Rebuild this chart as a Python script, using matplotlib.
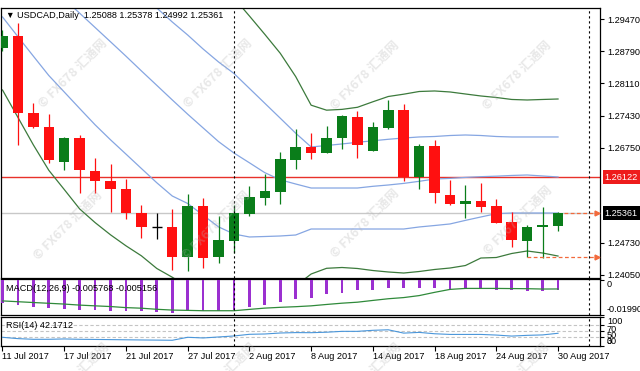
import matplotlib.pyplot as plt
from matplotlib.transforms import blended_transform_factory

plt.rcParams['font.family'] = ['Liberation Sans', 'DejaVu Sans']

W, H = 640, 371

# daily candles, 11 Jul 2017 .. 30 Aug 2017
opens = [1.2886, 1.2912, 1.2748, 1.2719, 1.2645, 1.2695, 1.2625, 1.2605, 1.2587, 1.2537,
         1.2506, 1.2506, 1.2443, 1.2551, 1.2443, 1.2478, 1.2534, 1.2569, 1.2581, 1.2649,
         1.2677, 1.2663, 1.2696, 1.2739, 1.2668, 1.2717, 1.2755, 1.2613, 1.2678, 1.2575,
         1.2555, 1.2562, 1.2552, 1.2518, 1.2477, 1.2506, 1.25088]
highs = [1.2925, 1.2939, 1.2770, 1.2746, 1.2698, 1.2702, 1.2652, 1.2640, 1.2609, 1.2553,
         1.2536, 1.2544, 1.2577, 1.2568, 1.2529, 1.2553, 1.2594, 1.2619, 1.2666, 1.2714,
         1.2705, 1.2721, 1.2744, 1.2753, 1.2730, 1.2776, 1.2767, 1.2683, 1.2691, 1.2606,
         1.2596, 1.2599, 1.2567, 1.2539, 1.2511, 1.2550, 1.25378]
lows = [1.2880, 1.2681, 1.2717, 1.2642, 1.2628, 1.2579, 1.2578, 1.2539, 1.2523, 1.2483,
        1.2481, 1.2416, 1.2414, 1.2419, 1.2430, 1.2451, 1.2530, 1.2553, 1.2556, 1.2629,
        1.2650, 1.2663, 1.2671, 1.2652, 1.2667, 1.2715, 1.2605, 1.2587, 1.2557, 1.2553,
        1.2526, 1.2539, 1.2515, 1.2465, 1.24425, 1.2440, 1.24992]
closes = [1.2912, 1.2748, 1.2719, 1.2649, 1.2695, 1.2628, 1.2604, 1.2587, 1.2537, 1.2507,
          1.2506, 1.2443, 1.2551, 1.2440, 1.2479, 1.2537, 1.2571, 1.2582, 1.2650, 1.2677,
          1.2663, 1.2695, 1.2742, 1.2681, 1.2719, 1.2755, 1.2613, 1.2678, 1.2579, 1.2555,
          1.2562, 1.2550, 1.2516, 1.2479, 1.2506, 1.2511, 1.25361]

# bollinger lines
bb_mid = [1.31121, 1.30812, 1.30515, 1.30208, 1.29900, 1.29599, 1.29296, 1.28993, 1.28688, 1.28376,
          1.28069, 1.27761, 1.27458, 1.27167, 1.26877, 1.26635, 1.26428, 1.26218, 1.26067, 1.25978,
          1.25893, 1.25893, 1.25893, 1.25893, 1.25929, 1.25957, 1.25991, 1.26035, 1.26084, 1.26097,
          1.26118, 1.26133, 1.26144, 1.26159, 1.26169, 1.26148, 1.26127]
bb1_up = [1.32656, 1.32359, 1.32063, 1.31766, 1.31469, 1.31172, 1.30897, 1.30600, 1.30303, 1.30006,
          1.29709, 1.29413, 1.29137, 1.28840, 1.28565, 1.28321, 1.28005, 1.27689, 1.27373, 1.27055,
          1.26763, 1.26794, 1.26827, 1.26862, 1.26894, 1.26926, 1.26953, 1.26975, 1.26985, 1.27006,
          1.27017, 1.27006, 1.26985, 1.26975, 1.26975, 1.26975, 1.26975]
bb1_low = [1.29519, 1.29101, 1.28688, 1.28278, 1.27929, 1.27579, 1.27233, 1.26915, 1.26612, 1.26307,
           1.26004, 1.25724, 1.25565, 1.25317, 1.25069, 1.24918, 1.24855, 1.24865, 1.24876, 1.24897,
           1.25024, 1.25024, 1.25024, 1.25024, 1.25024, 1.25024, 1.25024, 1.25067, 1.25098, 1.25131,
           1.25207, 1.25279, 1.25349, 1.25363, 1.25363, 1.25363, 1.25363]
bb2_up = [1.36027, 1.35603, 1.35179, 1.34755, 1.34331, 1.33907, 1.33483, 1.33059, 1.32635, 1.32211,
          1.31829, 1.31448, 1.31066, 1.30685, 1.30303, 1.29921, 1.29540, 1.29150, 1.28749, 1.28255,
          1.27649, 1.27543, 1.27560, 1.27604, 1.27721, 1.27833, 1.27882, 1.27939, 1.27950, 1.27929,
          1.27886, 1.27844, 1.27812, 1.27770, 1.27759, 1.27770, 1.27780]
bb2_low = [1.27971, 1.27390, 1.26807, 1.26269, 1.25862, 1.25450, 1.25160, 1.24901, 1.24668, 1.24456,
           1.24187, 1.24002, 1.23795, 1.23561, 1.23392, 1.23265, 1.23265, 1.23413, 1.23625, 1.23816,
           1.24070, 1.24191, 1.24208, 1.24187, 1.24144, 1.24113, 1.24091, 1.24123, 1.24166, 1.24197,
           1.24250, 1.24409, 1.24420, 1.24505, 1.24558, 1.24515, 1.24451]

macd_main = [-0.0135, -0.01433, -0.01583, -0.01622, -0.0166, -0.01717, -0.01735, -0.01773, -0.01811, -0.01811,
             -0.01868, -0.01906, -0.01735, -0.01773, -0.01773, -0.01735, -0.01583, -0.01433, -0.01263, -0.0111,
             -0.01014, -0.00825, -0.0073, -0.00598, -0.00579, -0.00484, -0.00484, -0.00446, -0.00484, -0.00541,
             -0.00503, -0.00541, -0.00579, -0.00598, -0.00636, -0.00636, -0.005768]
macd_signal = [-0.01206, -0.01252, -0.01299, -0.01343, -0.01388, -0.01448, -0.01491, -0.01531, -0.01593, -0.01627,
               -0.0169, -0.01735, -0.01753, -0.01773, -0.01773, -0.01773, -0.01696, -0.01622, -0.01576, -0.0154,
               -0.01491, -0.01411, -0.01337, -0.0128, -0.01178, -0.01081, -0.01013, -0.00899, -0.00711, -0.00541,
               -0.00484, -0.00484, -0.00484, -0.00493, -0.005, -0.0052, -0.005156]
rsi_vals = [28.3, 23.7, 21.4, 21.4, 22.6, 21.4, 20.9, 20.3, 19.7, 19.1,
            18.6, 18.0, 28.3, 26.0, 29.4, 32.9, 38.6, 39.7, 43.1, 44.5,
            44.2, 45.8, 48.8, 48.8, 52.4, 54.2, 42.7, 45.2, 40.5, 38.2,
            38.2, 38.2, 36.0, 32.5, 35.0, 36.5, 42.1712]

tick_idx = [0, 4, 8, 12, 16, 20, 24, 28, 32, 36]
tick_labels = ['11 Jul 2017', '17 Jul 2017', '21 Jul 2017', '27 Jul 2017', '2 Aug 2017',
               '8 Aug 2017', '14 Aug 2017', '18 Aug 2017', '24 Aug 2017', '30 Aug 2017']
price_ticks = [1.29470, 1.28790, 1.28110, 1.27430, 1.26750, 1.24730, 1.24050]
red_level = 1.26122
separators = [15, 38]

GREEN = '#0a7d1a'
RED = '#ff1010'
FS = 6.6


def box(l, t, r, b):
    return [l / W, 1 - b / H, (r - l) / W, (b - t) / H]


fig = plt.figure(figsize=(6.4, 3.71), dpi=100)
fig.patch.set_facecolor('white')
ax = fig.add_axes(box(1, 8, 600, 277.5))
ax_m = fig.add_axes(box(1, 279, 600, 314.5))
ax_r = fig.add_axes(box(1, 316.5, 600, 345.5))

x = list(range(len(opens)))

for a in (ax, ax_m, ax_r):
    a.set_xlim(-0.097, 38.72)
    a.set_facecolor('white')
    for s in a.spines.values():
        s.set_linewidth(0.9)
        s.set_color('black')
    for sx in separators:
        a.axvline(sx, color='black', lw=0.8, ls=(0, (2, 2.5)), zorder=6)

# main chart
ax.set_ylim(1.23996, 1.29709)
ax.axhline(closes[-1], color='#c8c8c8', lw=1, zorder=1)
ax.axhline(red_level, color='#e8322a', lw=1, zorder=2)
ax.plot(x, bb2_up, color='#3c7a3c', lw=0.9, zorder=2)
ax.plot(x, bb2_low, color='#3c7a3c', lw=0.9, zorder=2)
ax.plot(x, bb1_up, color='#86a6e2', lw=0.9, zorder=2)
ax.plot(x, bb_mid, color='#86a6e2', lw=0.9, zorder=2)
ax.plot(x, bb1_low, color='#86a6e2', lw=0.9, zorder=2)

for i in x:
    o, h, l, c = opens[i], highs[i], lows[i], closes[i]
    col = GREEN if c > o else (RED if c < o else 'black')
    ax.vlines(i, l, h, color=col, lw=0.9, zorder=3)
    if c == o:
        ax.hlines(o, i - 0.34, i + 0.34, color=col, lw=1, zorder=4)
    else:
        ax.bar(i, abs(c - o), bottom=min(o, c), width=0.68, color=col, lw=0, zorder=4)

dash_col = '#f26a3c'
ax.plot([36.4, 38.5], [closes[-1]] * 2, color=dash_col, lw=0.9, ls=(0, (3, 2)), zorder=5)
ax.plot([34, 38.5], [lows[34]] * 2, color=dash_col, lw=0.9, ls=(0, (3, 2)), zorder=5)
ax.plot([38.5, 38.5], [closes[-1], lows[34]], ls='none', marker='>', ms=3.5, color=dash_col, zorder=5)

ax.yaxis.tick_right()
ax.set_yticks(price_ticks)
ax.set_yticklabels([f'{v:.5f}' for v in price_ticks])
ax.tick_params(axis='y', direction='out', length=3, width=0.8, pad=2, labelsize=FS)
ax.set_xticks([])

tr = blended_transform_factory(ax.transAxes, ax.transData)
ax.text(1.008, red_level, f'{red_level:.5f}', transform=tr, ha='left', va='center', color='white',
        fontsize=FS, bbox=dict(boxstyle='square,pad=0.25', fc='#ee1c1c', ec='none'), clip_on=False)
ax.text(1.008, closes[-1], f'{closes[-1]:.5f}', transform=tr, ha='left', va='center', color='white',
        fontsize=FS, bbox=dict(boxstyle='square,pad=0.25', fc='black', ec='none'), clip_on=False)

ax.text(0.0067, 0.972, '\u25bc', transform=ax.transAxes, fontsize=6.2, va='center', ha='left')
ax.text(0.0267, 0.972, 'USDCAD,Daily  ' + ' '.join(f'{v:.5f}' for v in
        (opens[-1], highs[-1], lows[-1], closes[-1])),
        transform=ax.transAxes, fontsize=FS, va='center', ha='left')

# MACD
ax_m.set_ylim(-0.019909, 0.0006)
ax_m.bar(x, macd_main, width=0.18, color='#9b30d0', lw=0, zorder=3)
ax_m.plot(x, macd_signal, color='#2f8a3a', lw=0.9, zorder=4)
ax_m.yaxis.tick_right()
ax_m.set_yticks([0, -0.019909])
ax_m.set_yticklabels(['0', '-0.019909'])
ax_m.get_yticklabels()[0].set_va('top')
ax_m.get_yticklabels()[1].set_va('bottom')
ax_m.tick_params(axis='y', direction='out', length=3, width=0.8, pad=2, labelsize=FS)
ax_m.set_xticks([])
ax_m.text(0.0083, 0.72, f'MACD(12,26,9) {macd_main[-1]:.6f} {macd_signal[-1]:.6f}',
          transform=ax_m.transAxes, fontsize=FS, va='center', ha='left')

# RSI
ax_r.set_ylim(0, 100)
for lv in (70, 50, 30):
    ax_r.axhline(lv, color='#c4c4c4', lw=0.8, ls=(0, (3, 2)), zorder=1)
ax_r.plot(x, rsi_vals, color='#4a96da', lw=0.8, zorder=3)
ax_r.yaxis.tick_right()
ax_r.set_yticks([100, 70, 50, 30, 0])
ax_r.set_yticklabels(['100', '70', '50', '30', '0'])
for lab in ax_r.get_yticklabels()[:4]:
    lab.set_va('top')
ax_r.get_yticklabels()[4].set_va('bottom')
ax_r.tick_params(axis='y', direction='out', length=3, width=0.8, pad=2, labelsize=FS)
ax_r.text(0.0083, 0.68, f'RSI(14) {rsi_vals[-1]:.4f}', transform=ax_r.transAxes,
          fontsize=FS, va='center', ha='left')
ax_r.set_xticks(tick_idx)
ax_r.set_xticklabels(tick_labels)
for lab in ax_r.get_xticklabels():
    lab.set_ha('left')
ax_r.tick_params(axis='x', direction='out', length=3.5, width=0.8, pad=1.2, labelsize=FS)

# watermarks
marks = [(73, 73), (218, 73), (365, 75), (517, 75),
         (68, 225), (216, 225), (365, 223), (518, 220),
         (75, 377), (222, 377), (367, 377), (515, 377)]
for px, py in marks:
    fig.text(px / W, 1 - py / H, '\u00a9 FX678 汇通网', rotation=45, ha='center', va='center',
             fontsize=9, fontweight='bold', color='#b4b4b4', alpha=0.3,
             family=['Noto Sans CJK SC', 'DejaVu Sans'], zorder=10)

fig.savefig('out.png', dpi=100)
